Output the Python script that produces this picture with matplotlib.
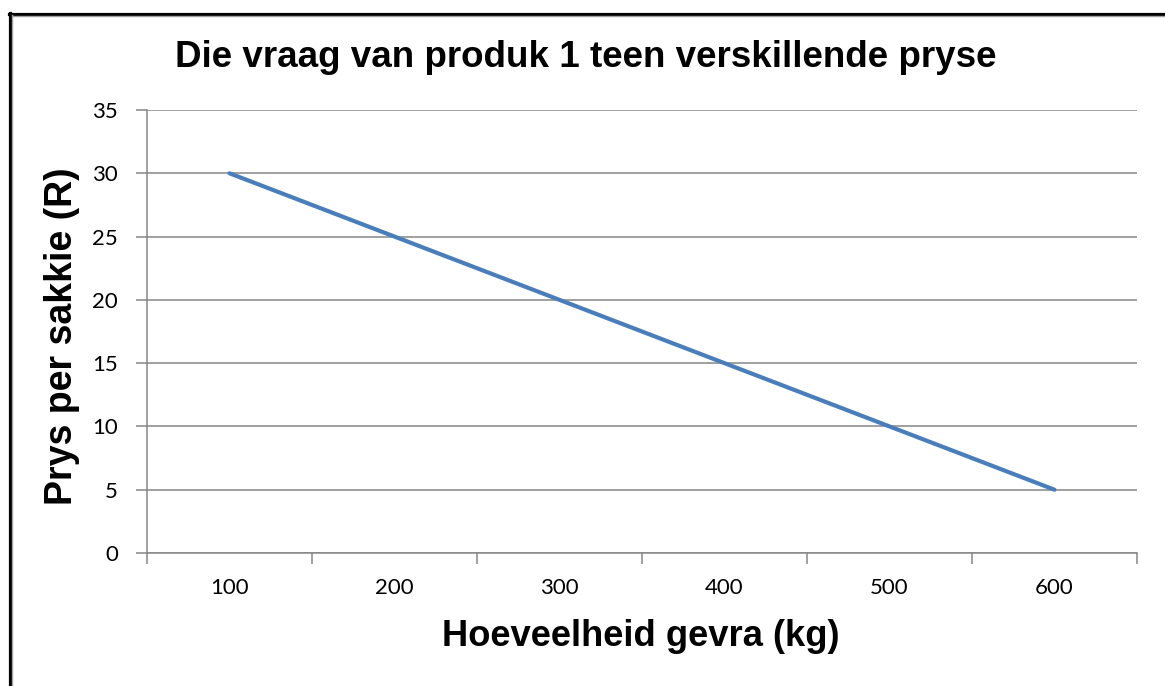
import matplotlib
matplotlib.use("Agg")
import matplotlib.pyplot as plt
from matplotlib.lines import Line2D

categories = ["100", "200", "300", "400", "500", "600"]
prices = [30, 25, 20, 15, 10, 5]
yticks = [0, 5, 10, 15, 20, 25, 30, 35]

W, H = 1165, 686
fig = plt.figure(figsize=(W / 100, H / 100), dpi=100)
left, right, top, bottom = 147, 1137, 110, 553
ax = fig.add_axes([left / W, 1 - bottom / H, (right - left) / W, (bottom - top) / H])

x = list(range(len(categories)))
ax.plot(x, prices, color="#4A7EBB", lw=3.0, solid_capstyle="round", zorder=3)
ax.set_xlim(-0.5, len(categories) - 0.5)
ax.set_ylim(0, 35)
ax.set_yticks(yticks)
ax.set_yticklabels([str(v) for v in yticks], fontsize=16, family="Lato")
ax.set_xticks(x)
ax.set_xticklabels(categories, fontsize=16, family="Lato")
ax.set_xticks([i - 0.5 for i in range(len(categories) + 1)], minor=True)
ax.tick_params(axis="x", which="major", length=0, pad=18)
ax.tick_params(axis="x", which="minor", length=8, width=1.1, color="#868686", direction="out")
ax.tick_params(axis="y", length=8, width=1.1, color="#868686", direction="out", pad=13)
ax.grid(axis="y", color="#868686", lw=1.1)
for s in ["top", "right"]:
    ax.spines[s].set_visible(False)
for s in ["left", "bottom"]:
    ax.spines[s].set_color("#868686")
    ax.spines[s].set_linewidth(1.1)

fig.text(586 / W, 1 - 67 / H, "Die vraag van produk 1 teen verskillende pryse",
         ha="center", va="baseline", fontsize=26.5, fontweight="bold", family="Liberation Sans")
fig.text(44 / W, 1 - 336 / H, "Prys per sakkie (R)", rotation=90, ha="left", va="center",
         fontsize=27, fontweight="bold", family="Liberation Sans")
fig.text(641 / W, 1 - 646 / H, "Hoeveelheid gevra (kg)", ha="center", va="baseline",
         fontsize=26.2, fontweight="bold", family="Liberation Sans")

# frame (top and left only, as in the cropped reference)
fig.add_artist(Line2D([9 / W, 1], [1 - 13.5 / H, 1 - 13.5 / H], color="black", lw=2.3, transform=fig.transFigure))
fig.add_artist(Line2D([11 / W, 1], [1 - 15.8 / H, 1 - 15.8 / H], color="#A0A0A0", lw=1.0, transform=fig.transFigure))
fig.add_artist(Line2D([9.5 / W, 9.5 / W], [0, 1 - 12.5 / H], color="black", lw=2.3, transform=fig.transFigure))
fig.add_artist(Line2D([11.8 / W, 11.8 / W], [0, 1 - 15 / H], color="#A0A0A0", lw=1.0, transform=fig.transFigure))

fig.savefig("out.png", dpi=100)
